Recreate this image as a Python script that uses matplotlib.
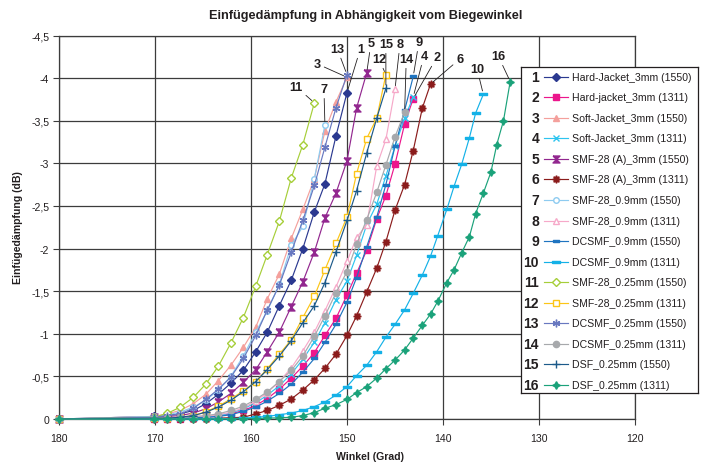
import matplotlib
matplotlib.use('Agg')
import matplotlib.pyplot as plt
from matplotlib.ticker import FixedLocator, FuncFormatter

plt.rcParams['font.family'] = ['Liberation Sans', 'DejaVu Sans']

# ---------------- data ----------------
angles = [180, 170.1, 168.7, 167.4, 166.0, 164.7, 163.4, 162.1, 160.8, 159.5, 158.3, 157.05,
          155.8, 154.6, 153.4, 152.3, 151.15, 150.0, 149.0, 147.95, 146.9, 145.95, 145.0,
          144.0, 143.1, 142.15, 141.3, 140.55, 139.6, 138.85, 138.05, 137.25, 136.6, 135.8,
          135.0, 134.4, 133.7, 133.0]

s1 = [0, -0.03, -0.04, -0.06, -0.1, -0.18, -0.29, -0.42, -0.57, -0.79, -1.02, -1.33, -1.63,
      -2.0, -2.43, -2.76, -3.32, -3.83]
s2 = [0, 0, 0, -0.005, -0.01, -0.02, -0.035, -0.06, -0.1, -0.16, -0.24, -0.35, -0.48, -0.62,
      -0.78, -0.98, -1.18, -1.455, -1.71, -1.98, -2.35, -2.62, -2.99, -3.46, -3.76]
s3 = [0, -0.03, -0.06, -0.1, -0.18, -0.29, -0.45, -0.63, -0.84, -1.08, -1.41, -1.70, -2.12,
      -2.46, -2.82, -3.38, -3.72, -4.01]
s4 = [0, -0.01, -0.01, -0.015, -0.02, -0.025, -0.04, -0.07, -0.12, -0.19, -0.28, -0.39, -0.53,
      -0.7, -0.9, -1.13, -1.40, -1.62, -1.92, -2.28, -2.52, -2.85, -3.2, -3.53, -3.78]
s5 = [0, -0.02, -0.03, -0.04, -0.07, -0.12, -0.2, -0.3, -0.43, -0.58, -0.79, -1.02, -1.32,
      -1.61, -1.96, -2.36, -2.65, -3.03, -3.65, -4.06]
s6 = [0, 0, 0, 0, 0, -0.005, -0.01, -0.015, -0.02, -0.06, -0.1, -0.16, -0.235, -0.34, -0.46,
      -0.595, -0.76, -0.98, -1.21, -1.49, -1.77, -2.08, -2.45, -2.75, -3.15, -3.65, -3.93]
s7 = [0, -0.03, -0.05, -0.08, -0.14, -0.22, -0.34, -0.5, -0.74, -1.02, -1.27, -1.58, -2.04,
      -2.26, -2.82, -3.45]
s8 = [0, -0.01, -0.015, -0.02, -0.025, -0.03, -0.05, -0.08, -0.13, -0.21, -0.31, -0.44, -0.6,
      -0.8, -1.02, -1.27, -1.55, -1.85, -2.13, -2.28, -2.97, -3.28, -3.87]
s9 = [0, -0.01, -0.01, -0.01, -0.015, -0.02, -0.03, -0.05, -0.09, -0.14, -0.21, -0.3, -0.41,
      -0.55, -0.71, -0.9, -1.11, -1.37, -1.66, -2.02, -2.37, -2.75, -3.2, -3.62, -4.02]
s10 = [0, 0, 0, 0, 0, 0, -0.005, -0.005, -0.01, -0.02, -0.03, -0.05, -0.07, -0.1, -0.145,
       -0.2, -0.28, -0.38, -0.51, -0.63, -0.79, -0.96, -1.11, -1.28, -1.475, -1.69, -1.91,
       -2.15, -2.46, -2.73, -2.99, -3.30, -3.59, -3.81]
s11 = [0, -0.02, -0.067, -0.137, -0.255, -0.41, -0.62, -0.89, -1.19, -1.56, -1.93, -2.32,
       -2.83, -3.22, -3.71]
s12 = [0, -0.01, -0.01, -0.02, -0.04, -0.086, -0.15, -0.235, -0.33, -0.44, -0.59, -0.76,
       -0.93, -1.19, -1.44, -1.75, -2.06, -2.37, -2.88, -3.29, -3.53, -4.04]
s13 = [0, -0.02, -0.04, -0.06, -0.125, -0.23, -0.35, -0.49, -0.71, -0.98, -1.28, -1.57, -1.96,
       -2.33, -2.74, -3.19, -3.65, -4.04]
s14 = [0, -0.01, -0.015, -0.02, -0.03, -0.04, -0.06, -0.1, -0.15, -0.23, -0.32, -0.44, -0.57,
       -0.74, -0.97, -1.21, -1.48, -1.73, -2.05, -2.34, -2.66, -2.98, -3.31, -3.6]
s15 = [0, -0.01, -0.01, -0.02, -0.04, -0.08, -0.14, -0.22, -0.32, -0.44, -0.58, -0.74, -0.92,
       -1.13, -1.33, -1.60, -1.96, -2.33, -2.68, -3.12, -3.53, -3.88]
s16 = [0, 0, 0, 0, 0, 0, 0, 0, -0.005, -0.005, -0.01, -0.015, -0.02, -0.04, -0.075, -0.126,
       -0.168, -0.23, -0.31, -0.38, -0.48, -0.59, -0.69, -0.81, -0.95, -1.10, -1.23, -1.38,
       -1.60, -1.75, -1.95, -2.14, -2.41, -2.65, -2.90, -3.22, -3.50, -3.96]

series = [s1, s2, s3, s4, s5, s6, s7, s8, s9, s10, s11, s12, s13, s14, s15, s16]

labels = ["Hard-Jacket_3mm (1550)", "Hard-jacket_3mm (1311)", "Soft-Jacket_3mm (1550)",
          "Soft-Jacket_3mm (1311)", "SMF-28 (A)_3mm (1550)", "SMF-28 (A)_3mm (1311)",
          "SMF-28_0.9mm (1550)", "SMF-28_0.9mm (1311)", "DCSMF_0.9mm (1550)",
          "DCSMF_0.9mm (1311)", "SMF-28_0.25mm (1550)", "SMF-28_0.25mm (1311)",
          "DCSMF_0.25mm (1550)", "DCSMF_0.25mm (1311)", "DSF_0.25mm (1550)",
          "DSF_0.25mm (1311)"]

x_ticks = [180, 170, 160, 150, 140, 130, 120]
y_ticks = [0, -0.5, -1, -1.5, -2, -2.5, -3, -3.5, -4, -4.5]

title = "Einfügedämpfung in Abhängigkeit vom Biegewinkel"
xlabel = "Winkel (Grad)"
ylabel = "Einfügedämpfung (dB)"

# ---------------- styles ----------------
hourglass = [(-1, 1), (1, 1), (-1, -1), (1, -1), (-1, 1)]
bar_small = [(-1, -0.45), (1, -0.45), (1, 0.45), (-1, 0.45), (-1, -0.45)]
bar_wide = [(-1, -0.35), (1, -0.35), (1, 0.35), (-1, 0.35), (-1, -0.35)]

styles = [
    dict(color='#2b3990', marker='D', ms=3.6, mfc='#2b3990'),
    dict(color='#ec168c', marker='s', ms=4.5, mfc='#ec168c'),
    dict(color='#f4a09c', marker='^', ms=4.5, mfc='#f4a09c'),
    dict(color='#2ec4ef', marker='x', ms=4.0, mfc='#2ec4ef', mew=1.0),
    dict(color='#92278f', marker=hourglass, ms=5.0, mfc='#92278f'),
    dict(color='#8b1c1c', marker=(8, 1, 0), ms=5.5, mfc='#8b1c1c'),
    dict(color='#8ecbf0', marker='o', ms=4.0, mfc='white', mew=1.0),
    dict(color='#f6a9c9', marker='^', ms=4.5, mfc='white', mew=1.0),
    dict(color='#1f74c0', marker=bar_small, ms=4.5, mfc='#1f74c0'),
    dict(color='#14b1e7', marker=bar_wide, ms=6.0, mfc='#14b1e7'),
    dict(color='#a6ce39', marker='D', ms=3.6, mfc='white', mew=1.0),
    dict(color='#fcc516', marker='s', ms=5.0, mfc='white', mew=1.0),
    dict(color='#6878c0', marker=(6, 2, 0), ms=5.5, mfc='#6878c0', mew=1.0),
    dict(color='#a7a9ac', marker='o', ms=4.5, mfc='#a7a9ac'),
    dict(color='#1c5a8a', marker='+', ms=5.5, mfc='#1c5a8a', mew=1.0),
    dict(color='#1ba27a', marker=(4, 1, 0), ms=5.5, mfc='#1ba27a'),
]

# label offsets (points) relative to each curve's last point
label_offsets = [(9.6, 31.5), (17.1, 30.0), (-21.4, 9.6), (7.7, 29.5), (3.1, 21.6),
                 (21.1, 18.1), (-0.7, 25.9), (3.6, 32.6), (4.1, 24.8), (-4.5, 18.3),
                 (-13.2, 11.7), (-5.0, 11.4), (-7.0, 18.7), (1.2, 38.4), (0.0, 32.0),
                 (-8.6, 18.4)]

W, H = 704, 464
fig = plt.figure(figsize=(W / 100, H / 100), dpi=100)
ax = fig.add_axes([59 / W, 1 - 420 / H, 576 / W, 383.5 / H])

grid_c = '#3c3c3c'
for i, (ys, st) in enumerate(zip(series, styles)):
    xs = angles[:len(ys)]
    st = dict(st)
    col = st.pop('color')
    ax.plot(xs, ys, color=col, lw=0.85, mec=col, zorder=3 + i * 0.01, clip_on=False, **st)

for i, ys in enumerate(series):
    xs = angles[:len(ys)]
    dx, dy = label_offsets[i]
    ax.annotate(str(i + 1), xy=(xs[-1], ys[-1]), xytext=(dx, dy), textcoords='offset points',
                ha='center', va='center', fontsize=9.2, fontweight='bold',
                family=['Liberation Sans Narrow', 'Liberation Sans', 'DejaVu Sans'],
                color='#231f20',
                arrowprops=dict(arrowstyle='-', color='#231f20', lw=0.6, shrinkA=0.5, shrinkB=2.5),
                zorder=6)

ax.set_xlim(180, 120)
ax.set_ylim(0, -4.5)
ax.xaxis.set_major_locator(FixedLocator(x_ticks))
ax.yaxis.set_major_locator(FixedLocator(y_ticks))
ax.yaxis.set_major_formatter(FuncFormatter(lambda v, p: '0' if abs(v) < 1e-9 else f"{v:g}".replace('.', ',')))
ax.grid(True, color=grid_c, lw=0.9)
ax.set_axisbelow(True)
for s in ax.spines.values():
    s.set_color(grid_c)
    s.set_linewidth(0.9)
ax.tick_params(axis='both', direction='out', length=4, width=0.8, color=grid_c,
               labelsize=7.6, labelcolor='#231f20')
ax.tick_params(axis='x', pad=6)
ax.tick_params(axis='y', pad=3)

fig.text(366 / W, 1 - 16 / H, title, ha='center', va='center', fontsize=9.2,
         fontweight='bold', color='#231f20')
fig.text(370 / W, 1 - 457 / H, xlabel, ha='center', va='center', fontsize=7.6,
         fontweight='bold', color='#231f20')
fig.text(18 / W, 1 - 228 / H, ylabel, ha='center', va='center', fontsize=7.6,
         fontweight='bold', rotation=90, color='#231f20')

# ---------------- legend ----------------
lax = fig.add_axes([521 / W, 1 - 394 / H, 177 / W, 326 / H])
lax.set_xlim(0, 177)
lax.set_ylim(326, 0)
lax.set_xticks([])
lax.set_yticks([])
lax.set_facecolor('white')
for s in lax.spines.values():
    s.set_color('#231f20')
    s.set_linewidth(0.9)
for i, (lab, st) in enumerate(zip(labels, styles)):
    yc = 9.7 + i * 20.55
    st = dict(st)
    col = st.pop('color')
    lax.text(18, yc, str(i + 1), ha='right', va='center', fontsize=10, fontweight='bold',
             color='#231f20')
    lax.plot([23.3, 47.3], [yc, yc], color=col, lw=0.85)
    lax.plot([35.3], [yc], color=col, mec=col, ls='none', **st)
    lax.text(50.7, yc, lab, ha='left', va='center', fontsize=7.6, color='#231f20')

fig.savefig('out.png', dpi=100)
